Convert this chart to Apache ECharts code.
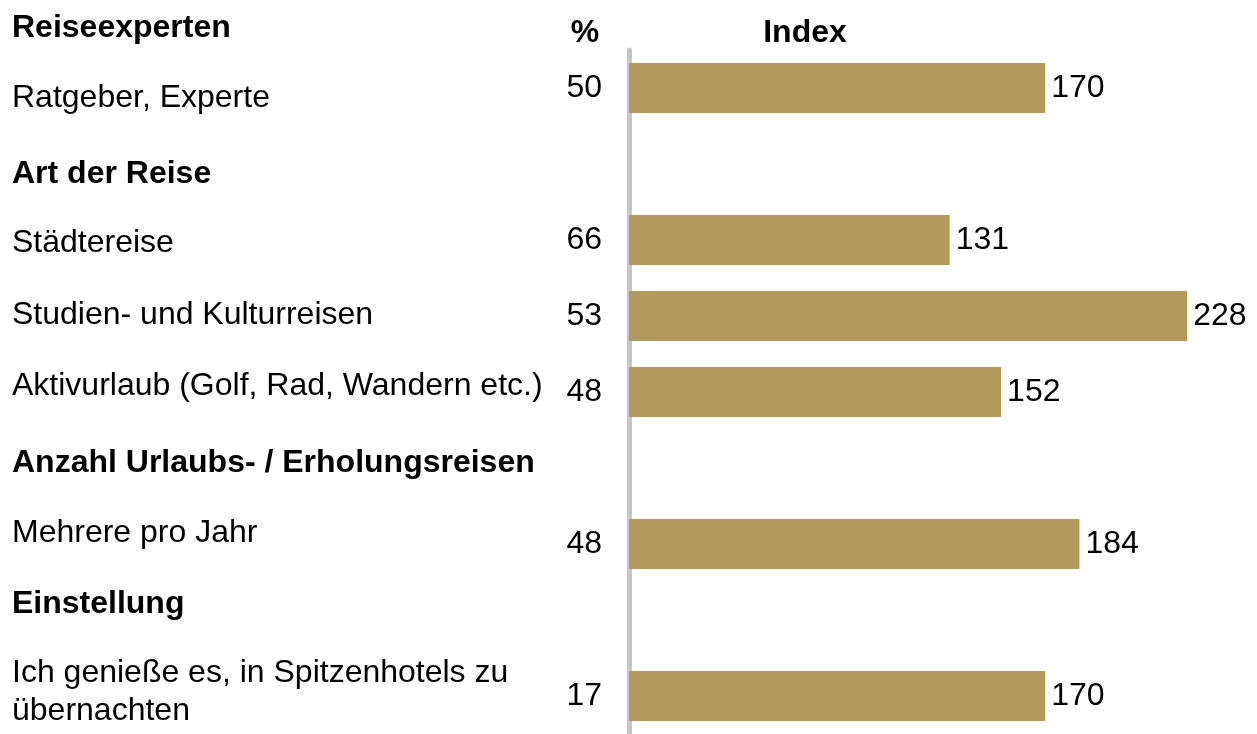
<!DOCTYPE html>
<html lang="de">
<head>
    <meta charset="utf-8">
    <title>Reiseexperten Index</title>
    <script src="https://cdn.jsdelivr.net/npm/echarts@6/dist/echarts.min.js"></script>
    <style>
        html, body { margin: 0; padding: 0; background: #fff; }
        #divChart { width: 1257px; height: 734px; }
    </style>
</head>
<body>
<div id="divChart"></div>

<script>
    // one slot per row; heading rows stay empty
    var categories = ['Ratgeber, Experte', 'Art der Reise', 'Städtereise', 'Studien- und Kulturreisen',
        'Aktivurlaub (Golf, Rad, Wandern etc.)', 'Anzahl Urlaubs- / Erholungsreisen', 'Mehrere pro Jahr',
        'Einstellung', 'Ich genieße es, in Spitzenhotels zu\nübernachten'];
    var indexValues   = [170, null, 131, 228, 152, null, 184, null, 170];
    var percentValues = [50, null, 66, 53, 48, null, 48, null, 17];

    var headings = ['Reiseexperten', 'Art der Reise', 'Anzahl Urlaubs- / Erholungsreisen', 'Einstellung'];
    var rowLabels = ['Ratgeber, Experte', 'Städtereise', 'Studien- und Kulturreisen',
        'Aktivurlaub (Golf, Rad, Wandern etc.)', 'Mehrere pro Jahr',
        'Ich genieße es, in Spitzenhotels zu\nübernachten'];

    // where the left texts sit (y centres, px)
    var headingY = [28, 174, 463, 604];
    var rowLabelY = [98, 243, 315, 386, 533, 692];

    var FONT = '"Liberation Sans", Arial, sans-serif';
    var BAR_COLOR = '#b4995e';

    function loadChart() {
        var myChart = echarts.init(document.getElementById('divChart'));

        var graphics = [];
        for (var i = 0; i < headings.length; i++) {
            graphics.push({
                type: 'text', x: 12, y: headingY[i],
                style: { text: headings[i], fontSize: 32, fontWeight: 'bold', fontFamily: FONT,
                    fill: '#000', verticalAlign: 'middle' }
            });
        }
        for (var j = 0; j < rowLabels.length; j++) {
            graphics.push({
                type: 'text', x: 12, y: rowLabelY[j],
                style: { text: rowLabels[j], fontSize: 32, fontFamily: FONT, fill: '#000',
                    lineHeight: 38, verticalAlign: 'middle' }
            });
        }
        graphics.push({
            type: 'text', x: 585, y: 33,
            style: { text: '%', fontSize: 32, fontWeight: 'bold', fontFamily: FONT, fill: '#000',
                align: 'center', verticalAlign: 'middle' }
        });
        graphics.push({
            type: 'text', x: 805, y: 33,
            style: { text: 'Index', fontSize: 32, fontWeight: 'bold', fontFamily: FONT, fill: '#000',
                align: 'center', verticalAlign: 'middle' }
        });

        var option = {
            animation: false,
            grid: { left: 629, right: 16, top: 50, height: 688 },
            xAxis: { type: 'value', min: 0, max: 250, show: false },
            yAxis: {
                type: 'category',
                inverse: true,
                data: categories,
                offset: 3,
                axisLine: { show: true, lineStyle: { color: '#c4c4c4', width: 5 } },
                axisTick: { show: false },
                splitLine: { show: false },
                axisLabel: {
                    interval: 0,
                    margin: 24,
                    fontSize: 32,
                    fontFamily: FONT,
                    color: '#000',
                    formatter: function (value, idx) {
                        return percentValues[idx] == null ? '' : String(percentValues[idx]);
                    }
                }
            },
            graphic: graphics,
            series: [
                {
                    name: 'Index',
                    type: 'bar',
                    barWidth: 50,
                    data: indexValues,
                    itemStyle: { color: BAR_COLOR },
                    label: {
                        show: true,
                        position: 'right',
                        distance: 6,
                        fontSize: 32,
                        fontFamily: FONT,
                        color: '#000'
                    }
                }
            ]
        };

        myChart.setOption(option);
    }

    loadChart();
</script>
</body>
</html>
